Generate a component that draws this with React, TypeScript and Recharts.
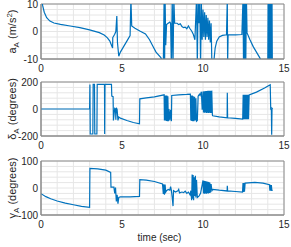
import React from 'react';
import { LineChart, Line, XAxis, YAxis, CartesianGrid, ReferenceArea, Label } from 'recharts';

// [time (sec), value]
const accelPts: [number, number][] = [
  [0, 14], [0.1, 9.5], [0.2, 7], [0.35, 5], [0.55, 3.8], [0.8, 3.1], [1.2, 2.6], [1.8, 2.0],
  [2.4, 1.4], [3.0, 0.6], [3.6, -0.4], [3.9, -1.3], [4.1, -2.3], [4.25, -3.5], [4.35, -5.0],
  [4.42, -6.0], [4.43, -2.2], [4.55, -1], [4.62, 0], [4.68, 5.6], [4.72, -4], [4.8, -9],
  [4.9, -7.5], [5.1, -5.5], [5.3, -3.5], [5.5, -1.5], [5.55, 12], [5.6, 2], [5.8, 1.2],
  [6.1, 0.2], [6.45, -0.9], [6.7, -3], [6.9, -5.3], [7.1, -7.5], [7.4, -9.5], [7.5, -11],
  [7.55, -12], [7.6, 12], [7.63, -12], [7.66, 12], [7.7, -5], [7.75, 2.5], [7.85, 3.0],
  [7.95, 3.4], [8.0, 3], [8.05, -12], [8.1, 12], [8.15, -12], [8.2, 12], [8.25, 3],
  [8.4, 3], [8.5, 2.5], [8.6, 2.8], [8.7, 1.8], [8.8, 1.4], [8.9, 1.6], [9.0, 1], [9.1, 2],
  [9.2, 1], [9.3, 0.2], [9.4, -1], [9.5, -3], [9.6, 12], [9.65, -12], [9.7, 12], [9.75, 3],
  [9.8, 12], [9.85, -12], [9.9, 10], [9.95, -3], [10.0, 8], [10.05, -2], [10.1, 7],
  [10.15, -3], [10.2, 6], [10.25, -2], [10.3, 5], [10.35, -3], [10.4, 4], [10.45, -4],
  [10.5, 3], [10.55, -12], [10.65, -12], [10.75, -6], [10.85, -3.5], [11.0, -2], [11.2, -1.4],
  [11.45, -1.2], [11.5, 12], [11.52, -12], [11.55, -1.2], [12.0, -1.2], [12.4, -1.1],
  [12.47, 12], [12.5, -12], [12.53, 12], [12.57, -12], [12.6, 12], [12.64, -12], [12.68, 12],
  [12.72, -0.5], [12.9, -3], [13.1, -5.5], [13.3, -7.5], [13.5, -9.5], [13.6, -11], [14.0, -11],
  [14.02, 12], [14.06, -12], [14.1, 12], [14.14, -12], [14.18, 12], [14.22, -12], [14.26, 12],
  [14.28, -12],
];

const deltaPts: [number, number][] = [
  [0, 0], [3.0, 0], [3.02, 182], [3.04, -185], [3.2, -185], [3.22, 182], [3.3, 182],
  [3.32, -185], [3.45, -185], [3.47, 182], [3.92, 182], [3.93, -185], [3.95, 182], [4.35, 182],
  [4.37, 95], [4.45, 92], [4.47, -85], [4.55, 5], [4.6, 0], [4.62, -80], [4.65, 10], [4.7, -5],
  [4.75, -85], [4.8, -60], [4.9, -68], [5.3, -85], [5.7, -100], [6.08, -110], [6.1, 75],
  [6.5, 82], [7.0, 90], [7.6, 105], [7.62, -85], [7.65, 100], [7.68, -85], [7.71, 100],
  [7.74, -88], [7.77, 100], [7.8, -90], [7.83, 95], [7.86, -90], [7.9, 0], [7.95, -85],
  [8.0, -5], [8.05, -90], [8.07, 100], [8.5, 105], [9.0, 108], [9.22, 110], [9.25, -85],
  [9.28, 100], [9.31, -88], [9.34, 100], [9.37, -90], [9.4, 95], [9.44, -90], [9.48, 90],
  [9.52, -85], [9.56, 80], [9.6, -90], [9.65, -85], [9.7, 95], [9.78, 110], [9.82, 100],
  [9.9, 128], [9.95, -5], [10.0, 130], [10.03, -25], [10.06, 131], [10.09, -28], [10.12, 132],
  [10.15, -25], [10.18, 133], [10.21, -30], [10.24, 134], [10.27, -28], [10.3, 135],
  [10.33, -30], [10.36, 135], [10.39, -28], [10.42, 136], [10.45, -30], [10.48, 136],
  [10.51, -30], [10.54, 136], [10.58, -45], [10.6, -50], [11.0, -58], [11.49, -65], [11.5, 120],
  [11.52, -65], [12.0, -70], [12.45, -75], [12.48, 105], [12.51, -75], [12.54, 105],
  [12.57, -75], [12.6, 105], [12.63, -75], [12.66, 105], [12.69, -75], [12.72, 105],
  [12.75, -75], [12.78, 105], [12.81, -75], [12.85, 105], [13.3, 125], [13.8, 155], [14.15, 180],
  [14.18, 0], [14.22, -10], [14.24, -190], [14.26, 5], [14.3, 0],
];

const gammaPts: [number, number][] = [
  [0, -21], [0.3, -32], [0.6, -40], [1.0, -48], [1.5, -56], [2.0, -62], [2.5, -68], [3.0, -72],
  [3.02, 73], [3.5, 71], [4.0, 66], [4.3, 58], [4.32, 3], [4.5, 3], [4.55, -20], [4.6, 2],
  [4.65, -50], [4.7, -25], [4.75, -58], [4.8, -35], [4.9, -33], [5.5, -33], [6.08, -31],
  [6.1, 31], [6.5, 29], [7.0, 24], [7.5, 15], [7.55, -22], [7.58, 14], [7.62, -25], [7.66, 13],
  [7.7, -15], [7.75, -10], [7.85, -5], [7.95, -8], [8.0, 5], [8.05, -10], [8.1, -35],
  [8.15, -67], [8.18, -10], [8.3, -15], [8.45, -10], [8.5, -5], [8.55, -18], [8.7, -15],
  [8.8, -17], [8.9, -12], [9.0, -20], [9.1, -15], [9.2, -25], [9.25, -10], [9.3, -45],
  [9.33, 50], [9.36, -40], [9.39, 48], [9.42, -45], [9.46, 40], [9.5, -30], [9.53, 45],
  [9.56, -35], [9.6, 30], [9.65, -35], [9.75, -30], [9.85, -20], [10.0, 28], [10.03, -20],
  [10.06, 27], [10.09, -21], [10.12, 26], [10.15, -20], [10.18, 25], [10.21, -21], [10.24, 24],
  [10.27, -19], [10.3, 23], [10.33, -20], [10.36, 22], [10.39, -18], [10.42, 20], [10.45, -17],
  [10.5, 15], [10.55, -10], [10.6, -5], [11.0, -8], [11.49, -11], [11.5, 8], [11.52, -11],
  [12.0, -13], [12.44, -15], [12.47, 18], [12.5, -15], [12.53, 18], [12.56, -14], [12.6, 18],
  [13.2, 21], [13.7, 18], [14.1, 12], [14.13, -10], [14.16, 12], [14.19, -10], [14.22, 11],
  [14.25, -9], [14.3, -9],
];

const xTicks = [0, 1, 2, 3, 4, 5, 6, 7, 8, 9, 10, 11, 12, 13, 14, 15];
const accelTicks = [-10, -8, -6, -4, -2, 0, 2, 4, 6, 8, 10];
const deltaTicks = [-200, -160, -120, -80, -40, 0, 40, 80, 120, 160, 200];
const gammaTicks = [-100, -80, -60, -40, -20, 0, 20, 40, 60, 80, 100];

const FONT = '"Liberation Sans", Arial, sans-serif';
const INK = '#262626';
const BOX = '#8a8a8a';

const toRows = (pts: [number, number][]) => pts.map(([t, v]) => ({ t, v }));

function yLabel(main: string, sup?: string, rest = ' (degrees)') {
  return (props: any) => {
    const vb = props.viewBox;
    const cx = 16;
    const cy = vb.y + vb.height / 2;
    return (
      <text x={cx} y={cy} transform={`rotate(-90 ${cx} ${cy})`} textAnchor="middle"
        fontSize={11} fill={INK} fontFamily={FONT}>
        {main}
        <tspan dy={2.5} fontSize={8}>A</tspan>
        <tspan dy={-2.5}>{rest}</tspan>
        {sup && <tspan dy={-4} fontSize={8}>{sup}</tspan>}
        {sup && <tspan dy={4}>)</tspan>}
      </text>
    );
  };
}

const timeLabel = (props: any) => {
  const vb = props.viewBox;
  return (
    <text x={vb.x + vb.width / 2 - 3} y={vb.y + 26} textAnchor="middle" fontSize={10}
      fill={INK} fontFamily={FONT}>
      time (sec)
    </text>
  );
};

interface PanelProps {
  pts: [number, number][];
  top: number;
  plotH: number;
  domain: [number, number];
  ticks: number[];
  label: (p: any) => React.ReactElement;
  showTime?: boolean;
}

function Panel({ pts, top, plotH, domain, ticks, label, showTime }: PanelProps) {
  const mTop = 6;
  const axisH = showTime ? 32 : 18;
  return (
    <div style={{ position: 'absolute', left: 0, top: top - mTop }}>
      <LineChart width={291} height={mTop + plotH + axisH} data={toRows(pts)}
        margin={{ top: mTop, right: 7, bottom: 0, left: 0 }}>
        <CartesianGrid stroke="#e6e6e6" />
        <XAxis dataKey="t" type="number" domain={[0, 15]} ticks={xTicks} interval={0}
          allowDataOverflow height={axisH} tickSize={0} tickMargin={6} tickLine={false}
          axisLine={{ stroke: BOX }}
          tick={{ fontSize: 10, fill: INK, fontFamily: FONT }}
          tickFormatter={(v) => (v % 5 === 0 ? String(v) : '')}>
          {showTime && <Label content={timeLabel} />}
        </XAxis>
        <YAxis type="number" domain={domain} ticks={ticks} interval={0} allowDataOverflow
          width={41} tickSize={0} tickMargin={3} tickLine={false} axisLine={{ stroke: BOX }}
          tick={{ fontSize: 10, fill: INK, fontFamily: FONT }}
          tickFormatter={(v) => (v === 0 || v === domain[0] || v === domain[1] ? String(v) : '')}>
          <Label content={label} />
        </YAxis>
        <ReferenceArea x1={0} x2={15} y1={domain[0]} y2={domain[1]} fill="none" stroke={BOX} />
        <Line type="linear" dataKey="v" stroke="#0072BD" strokeWidth={1.2} dot={false}
          isAnimationActive={false} />
      </LineChart>
    </div>
  );
}

export default function App() {
  return (
    <div style={{ position: 'absolute', left: 0, top: 0, width: 291, height: 247, background: '#fff' }}>
      <Panel pts={accelPts} top={4} plotH={55} domain={[-10, 10]} ticks={accelTicks}
        label={yLabel('a', '2', ' (m/s')} />
      <Panel pts={deltaPts} top={82} plotH={54} domain={[-200, 200]} ticks={deltaTicks}
        label={yLabel('\u03b4')} />
      <Panel pts={gammaPts} top={161} plotH={54} domain={[-100, 100]} ticks={gammaTicks}
        label={yLabel('\u03b3')} showTime />
    </div>
  );
}
